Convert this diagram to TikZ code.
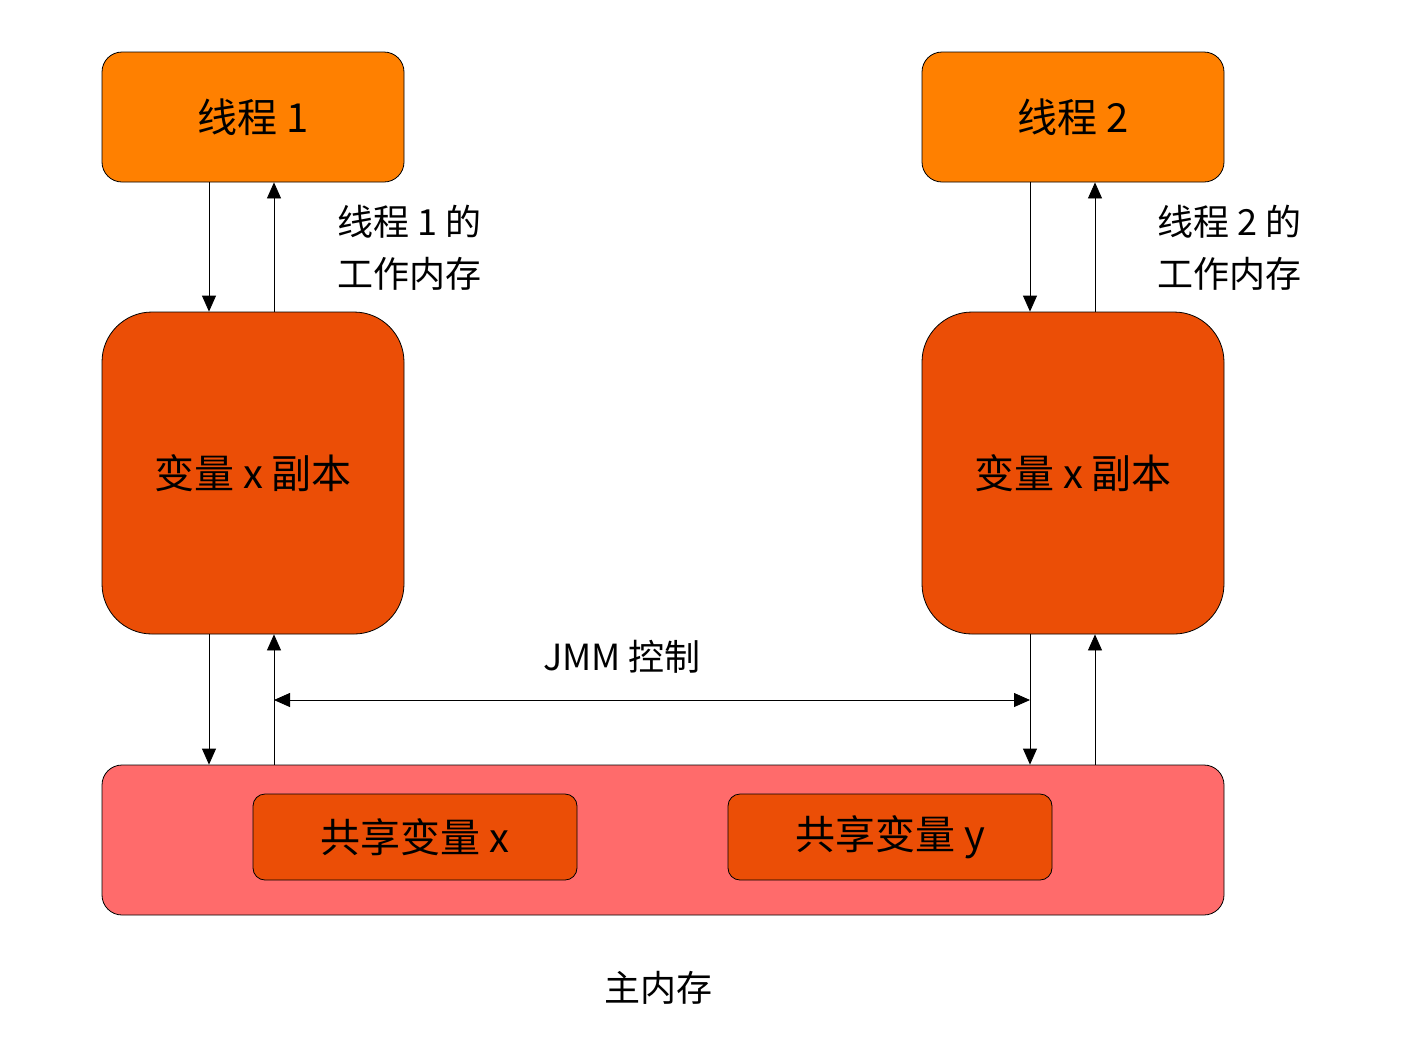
\documentclass[tikz,border=0pt]{standalone}
\usepackage{fontspec}
\setmainfont{Noto Sans CJK SC}
\usetikzlibrary{arrows.meta,positioning}
\definecolor{thread}{HTML}{FF8000}
\definecolor{copyc}{HTML}{EB4E06}
\definecolor{mainc}{HTML}{FF6B6B}
\tikzset{>={Triangle[length=8pt,width=7pt]},
         box/.style={draw=black,rounded corners=10pt,inner sep=0pt,font=\fontsize{20}{24}\selectfont},
         lbl/.style={font=\fontsize{18}{26}\selectfont,align=left}}

\begin{document}
\begin{tikzpicture}[x=0.5pt,y=-0.5pt]
	  \useasboundingbox (0,0) rectangle (1405,1041);
	  \node[box,fill=thread,minimum width=151pt,minimum height=65pt] (t1) at (253,117) {线程 1};
	  \node[box,fill=thread,minimum width=151pt,minimum height=65pt] (t2) at (1073,117) {线程 2};
	  \node[box,fill=copyc,rounded corners=25pt,minimum width=151pt,minimum height=161pt] (c1) at (253,473) {变量 x 副本};
	  \node[box,fill=copyc,rounded corners=25pt,minimum width=151pt,minimum height=161pt] (c2) at (1073,473) {变量 x 副本};
	  \node[box,fill=mainc,minimum width=561pt,minimum height=75pt] (m) at (663,840) {};
	  \node[box,fill=copyc,rounded corners=6pt,minimum width=162pt,minimum height=43pt] (sx) at (415,837) {共享变量 x};
	  \node[box,fill=copyc,rounded corners=6pt,minimum width=162pt,minimum height=43pt] (sy) at (890,837) {共享变量 y};
	  \node[lbl,anchor=west] (w1) at (330,248) {线程 1 的\\工作内存};
	  \node[lbl,anchor=west] (w2) at (1150,248) {线程 2 的\\工作内存};
	  \node[lbl] (jmm) at (622,657) {JMM 控制};
	  \node[lbl] (mm) at (658,988) {主内存};
	  % lanes
	  \coordinate (a1) at (209,0); \coordinate (b1) at (274,0);
	  \coordinate (a2) at (1030,0); \coordinate (b2) at (1095,0);
	  \draw[->] (t1.south -| a1) -- (c1.north -| a1);
	  \draw[->] (c1.north -| b1) -- (t1.south -| b1);
	  \draw[->] (t2.south -| a2) -- (c2.north -| a2);
	  \draw[->] (c2.north -| b2) -- (t2.south -| b2);
	  \draw[->] (c1.south -| a1) -- (m.north -| a1);
	  \draw[->] (m.north -| b1) -- (c1.south -| b1);
	  \draw[->] (c2.south -| a2) -- (m.north -| a2);
	  \draw[->] (m.north -| b2) -- (c2.south -| b2);
	  \coordinate (h1) at (274,700); \coordinate (h2) at (1030,700);
	  \draw[<->] (h1) -- (h2);
\end{tikzpicture}
\end{document}
